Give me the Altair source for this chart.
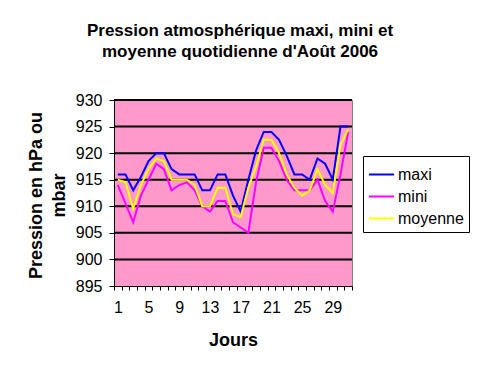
import altair as alt
import pandas as pd

days = list(range(1, 32))
maxi = [916, 916, 913, 915.5, 918.5, 920, 920, 917, 916, 916, 916, 913, 913, 916, 916, 912,
        909, 915, 920.5, 924, 924, 922.5, 919.5, 916, 916, 915, 919, 918, 915, 925, 925]
mini = [914, 910.5, 907, 912, 915, 918, 917, 913, 914, 914.5, 913, 910, 909, 911, 911, 907,
        906, 905, 914.5, 921, 921, 918.5, 915, 913, 913, 913, 915, 911, 909, 916, 924]
moyenne = [915, 914.5, 909.5, 914, 917, 919, 918.5, 915, 915, 915, 914, 910, 910, 913.5, 913.5, 908.5,
           908, 913.5, 917.5, 922.5, 922.5, 920, 916, 913.5, 912, 913, 917, 914, 912.5, 921.5, 924.5]
series = ["maxi", "mini", "moyenne"]
colors = ["#0000FF", "#FF00FF", "#FFFF00"]
y_ticks = [895, 900, 905, 910, 915, 920, 925, 930]
grid_vals = [900, 905, 910, 915, 920, 925, 930]
x_ticks = [d - 0.5 for d in range(1, 33)]

rows = []
for name, vals in zip(series, [maxi, mini, moyenne]):
    for d, v in zip(days, vals):
        rows.append({"jour": d, "serie": name, "valeur": v})
df = pd.DataFrame(rows)
grid_df = pd.DataFrame({"g": grid_vals})

FONT = "Liberation Sans"
W, H = 238, 186

x_scale = alt.Scale(domain=[0.5, 31.5], nice=False, zero=False)
y_scale = alt.Scale(domain=[895, 930], nice=False, zero=False)

y_axis = alt.Axis(values=y_ticks, title=["Pression en hPa ou", "mbar"], tickSize=5,
                  tickColor="black", domainColor="black", labelPadding=7,
                  labelFont=FONT, labelFontSize=16, labelColor="black",
                  titleFont=FONT, titleFontSize=18, titleFontWeight="bold", titleColor="black",
                  titleLineHeight=23, titleX=-78, titleY=H / 2 + 2, titleAngle=-90,
                  titleBaseline="middle", titleAlign="center", grid=False)

grid = alt.Chart(grid_df).mark_rule(color="black", strokeWidth=2).encode(
    y=alt.Y("g:Q", scale=y_scale, axis=y_axis)
)

lines = alt.Chart(df).mark_line(strokeWidth=2).encode(
    x=alt.X("jour:Q", scale=x_scale,
            axis=alt.Axis(values=x_ticks, title="Jours", tickSize=4, tickColor="black",
                          domainColor="black", labelPadding=9, labelOffset=W / 31 / 2,
                          labelFlush=False, labelOverlap=False, labelBound=False,
                          labelExpr="((datum.value - 0.5) % 4 == 0 && datum.value < 30) ? toString(datum.value + 0.5) : ''",
                          labelFont=FONT, labelFontSize=16, labelColor="black",
                          titleFont=FONT, titleFontSize=18, titleFontWeight="bold", titleColor="black",
                          titleX=W / 2, titleY=54, titleBaseline="middle", grid=False)),
    y=alt.Y("valeur:Q", scale=y_scale, axis=y_axis),
    color=alt.Color("serie:N", scale=alt.Scale(domain=series, range=colors),
                    legend=alt.Legend(title=None, orient="none", legendX=249, legendY=56,
                                      symbolType="stroke", symbolSize=625, symbolStrokeWidth=2,
                                      labelFont=FONT, labelFontSize=16, labelColor="black",
                                      labelOffset=3, rowPadding=-2, padding=5,
                                      strokeColor="black", fillColor="white")),
    order=alt.Order("jour:Q"),
)

chart = alt.layer(grid, lines).properties(
    width=W, height=H,
    autosize=alt.AutoSizeParams(type="none"),
    padding={"left": 106, "top": 92, "right": 120, "bottom": 79},
    title=alt.TitleParams(
        text=["Pression atmosphérique maxi, mini et", "moyenne quotidienne d'Août 2006"],
        font=FONT, fontSize=17, fontWeight="bold", color="black", anchor="middle",
        frame="group", dx=7, offset=31, lineHeight=21),
).configure(background="white").configure_view(fill="#FF99CC", stroke="#808080", strokeWidth=1)

chart.save("out.html", embed_options={"renderer": "svg", "actions": False})
